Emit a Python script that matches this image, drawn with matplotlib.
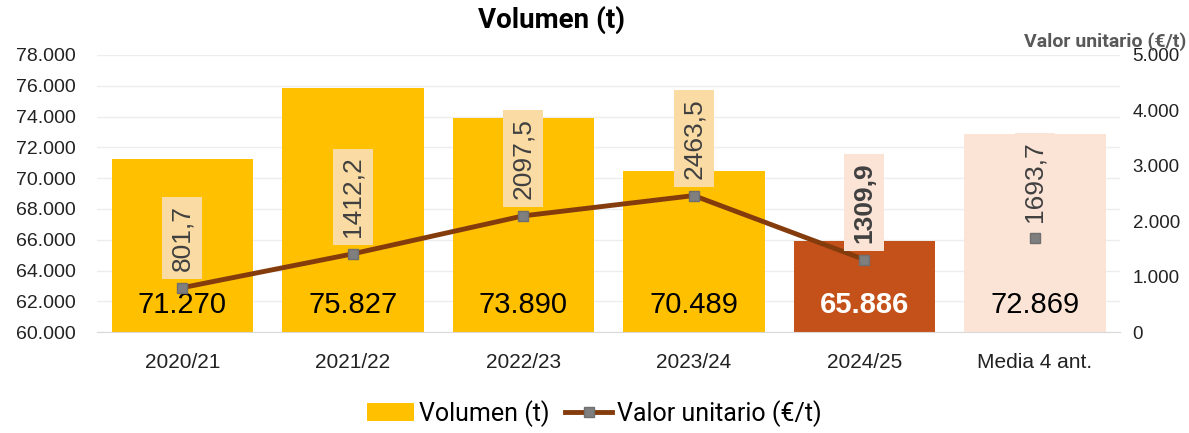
import matplotlib
matplotlib.use('Agg')
import matplotlib.pyplot as plt
from matplotlib.lines import Line2D
from matplotlib.patches import Patch

categories = ['2020/21', '2021/22', '2022/23', '2023/24', '2024/25', 'Media 4 ant.']
volumen = [71270, 75827, 73890, 70489, 65886, 72869]
valor = [801.7, 1412.2, 2097.5, 2463.5, 1309.9, 1693.7]
vol_labels = ['71.270', '75.827', '73.890', '70.489', '65.886', '72.869']
val_labels = ['801,7', '1412,2', '2097,5', '2463,5', '1309,9', '1693,7']
left_ticks = list(range(60000, 78001, 2000))
left_ticklabels = ['60.000', '62.000', '64.000', '66.000', '68.000', '70.000',
                   '72.000', '74.000', '76.000', '78.000']
right_ticks = [0, 1000, 2000, 3000, 4000, 5000]
right_ticklabels = ['0', '1.000', '2.000', '3.000', '4.000', '5.000']

bar_colors = ['#FFC000'] * 4 + ['#C4501A', '#FBE3D6']
box_colors = ['#FADBA4'] * 4 + ['#FBE3D6', '#FBE3D6']

plt.rcParams['font.family'] = ['Liberation Sans', 'DejaVu Sans']

fig = plt.figure(figsize=(11.89, 4.33), dpi=100)
ax = fig.add_axes([0.0816, 0.233, 0.8604, 0.64])
x = list(range(len(categories)))

ax.bar(x, [v - 60000 for v in volumen], bottom=60000, width=0.83, color=bar_colors, zorder=2)
ax.set_ylim(60000, 78000)
ax.set_xlim(-0.5, 5.5)
ax.set_yticks(left_ticks)
ax.set_yticklabels(left_ticklabels, fontsize=14, color='#222222')
ax.set_xticks(x)
ax.set_xticklabels(categories, fontsize=15, color='#222222')
ax.tick_params(length=0)
ax.tick_params(axis='x', pad=15)
ax.tick_params(axis='y', pad=58)
for lbl in ax.get_yticklabels():
    lbl.set_horizontalalignment('left')
ax.grid(axis='y', color='#EDEDED', linewidth=1, zorder=0)
for s in ['top', 'right', 'left']:
    ax.spines[s].set_visible(False)
ax.spines['bottom'].set_color('#D9D9D9')

# etiquetas de volumen dentro de las barras
for i, lab in enumerate(vol_labels):
    if i == 4:
        ax.text(i, 61790, lab, ha='center', va='center', fontsize=21, color='white', fontweight='bold', zorder=5)
    else:
        ax.text(i, 61790, lab, ha='center', va='center', fontsize=21, color='black', zorder=5)

ax2 = ax.twinx()
ax2.set_ylim(0, 5000)
ax2.set_yticks(right_ticks)
ax2.set_yticklabels(right_ticklabels, fontsize=13.5, color='#222222')
ax2.tick_params(length=0, pad=9)
for s in ['top', 'right', 'left', 'bottom']:
    ax2.spines[s].set_visible(False)

# linea solo hasta 2024/25, la media va suelta
ax2.plot(x[:5], valor[:5], color='#843C0C', linewidth=3.5, zorder=3)
ax2.plot(x, valor, linestyle='none', marker='s', markersize=6.5, markerfacecolor='#7F7F7F',
         markeredgecolor='#6F6F6F', zorder=4)

for i, lab in enumerate(val_labels):
    ax2.annotate(lab, (x[i], valor[i]), xytext=(0, 12), textcoords='offset points',
                 rotation=90, ha='center', va='bottom', fontsize=19,
                 color='#404040', fontweight='bold' if i == 4 else 'normal',
                 bbox=dict(boxstyle='square,pad=0.3', facecolor=box_colors[i], edgecolor='none'),
                 zorder=6)

fig.text(0.464, 0.953, 'Volumen (t)', ha='center', va='center', fontsize=20, fontweight='bold',
         family=['Roboto', 'DejaVu Sans'])
fig.text(0.998, 0.905, 'Valor unitario (€/t)', ha='right', va='center', fontsize=14,
         fontweight='bold', color='#595959', family=['Roboto', 'DejaVu Sans'])

handles = [Patch(facecolor='#FFC000', edgecolor='none'),
           Line2D([0], [0], color='#843C0C', linewidth=3.5, marker='s', markersize=6.5,
                  markerfacecolor='#7F7F7F', markeredgecolor='#6F6F6F')]
fig.legend(handles, ['Volumen (t)', 'Valor unitario (€/t)'], loc='center',
           bbox_to_anchor=(0.5, 0.045), ncol=2, frameon=False,
           handlelength=1.9, columnspacing=0.6, handletextpad=0.2,
           prop={'family': ['Roboto', 'DejaVu Sans'], 'size': 18})

fig.savefig('out.png', dpi=100)
